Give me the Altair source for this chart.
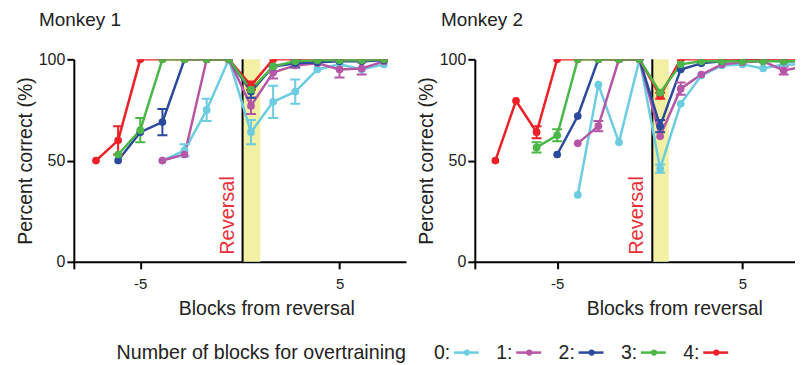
import altair as alt
import pandas as pd

# ---------------- data ----------------
GROUPS = ["0", "1", "2", "3", "4"]
COLORS = ["#6ccde0", "#b656a7", "#2c4a9c", "#4bb748", "#ec2027"]
DRAW_ORDER = ["0", "1", "2", "4", "3"]

# Monkey 1 (blocks from reversal; negative = before, positive = after)
m1_blocks_0 = [-4, -3, -2, -1, 1, 2, 3, 4, 5, 6, 7]
m1_pct_0 = [50, 55, 75, 100, 64, 79, 84, 95, 97.5, 95, 97.5]
m1_err_0 = [0, 3, 5.5, 0, 6, 8, 6, 0, 0, 0, 0]

m1_blocks_1 = [-4, -3, -2, -1, 1, 2, 3, 4, 5, 6, 7]
m1_pct_1 = [50, 53, 100, 100, 77, 93.5, 97, 98, 95, 95.5, 99]
m1_err_1 = [0, 0, 0, 0, 4, 3, 0, 0, 4, 3, 0]

m1_blocks_2 = [-6, -5, -4, -3, -2, -1, 1, 2, 3, 4, 5, 6, 7]
m1_pct_2 = [50, 64, 69, 100, 100, 100, 84, 96.5, 98, 98.5, 99, 99, 99.5]
m1_err_2 = [0, 0, 6.5, 0, 0, 0, 3, 0, 2, 0, 0, 0, 0]

m1_blocks_3 = [-6, -5, -4, -3, -2, -1, 1, 2, 3, 4, 5, 6, 7]
m1_pct_3 = [53, 65, 100, 100, 100, 100, 85, 96.5, 99, 99.5, 99.5, 99.5, 100]
m1_err_3 = [0, 6, 0, 0, 0, 0, 0, 0, 0, 0, 0, 0, 0]

m1_blocks_4 = [-7, -6, -5, -4, -3, -2, -1, 1, 2, 3, 4, 5, 6, 7]
m1_pct_4 = [50, 60, 100, 100, 100, 100, 100, 87, 100, 100, 100, 100, 100, 100]
m1_err_4 = [0, 7, 0, 0, 0, 0, 0, 2, 0, 0, 0, 0, 0, 0]

# Monkey 2
m2_blocks_0 = [-4, -3, -2, -1, 1, 2, 3, 4, 5, 6, 7, 8]
m2_pct_0 = [33, 87.5, 59, 100, 46, 78, 92, 97, 97.5, 95.5, 97.5, 97.5]
m2_err_0 = [0, 0, 0, 0, 2, 0, 0, 0, 0, 0, 0, 0]

m2_blocks_1 = [-4, -3, -2, -1, 1, 2, 3, 4, 5, 6, 7, 8]
m2_pct_1 = [58.5, 67, 100, 100, 62, 85.5, 92.5, 97.5, 98.5, 99, 94.5, 96.5]
m2_err_1 = [0, 2.5, 0, 0, 0, 3, 0, 0, 0, 0, 2, 0]

m2_blocks_2 = [-5, -4, -3, -2, -1, 1, 2, 3, 4, 5, 6, 7, 8]
m2_pct_2 = [53, 72, 100, 100, 100, 67, 95, 98, 99, 99.5, 99.5, 99, 99]
m2_err_2 = [0, 0, 0, 0, 0, 3, 0, 0, 0, 0, 0, 0, 0]

m2_blocks_3 = [-6, -5, -4, -3, -2, -1, 1, 2, 3, 4, 5, 6, 7, 8]
m2_pct_3 = [56.5, 62.5, 100, 100, 100, 100, 83.5, 97.5, 99, 99, 99, 99, 99, 99]
m2_err_3 = [2.5, 3, 0, 0, 0, 0, 0, 0, 0, 0, 0, 0, 0, 0]

m2_blocks_4 = [-8, -7, -6, -5, -4, -3, -2, -1, 1, 2, 3, 4, 5, 6, 7, 8]
m2_pct_4 = [50, 79.5, 64, 100, 100, 100, 100, 100, 82, 100, 100, 100, 100, 100, 100, 100]
m2_err_4 = [0, 0, 3, 0, 0, 0, 0, 0, 1.5, 0, 0, 0, 0, 0, 0, 0]

# reversal marker and the shaded first post-reversal block (in plotted position units)
REVERSAL_AT = [-0.38]
BAND_FROM = [-0.38]
BAND_TO = [0.42]

X_TICKS = [-5, 5]
Y_TICKS = [0, 50, 100]

LEGEND_TITLE = "Number of blocks for overtraining"

RED_TEXT = "#e8303a"
YELLOW = "#f2f0a2"
FONT = "Liberation Sans"


def to_pos(b):
    # blocks are numbered ..., -2, -1, 1, 2, ... (no block 0) and drawn evenly spaced
    return b if b < 0 else b - 1


def build(series):
    rows = []
    for g, (blocks, pct, err) in series.items():
        for b, p, e in zip(blocks, pct, err):
            rows.append(dict(group=g, block=b, pct=p, err=e, pos=to_pos(b),
                             lo=p - e, hi=p + e, k=DRAW_ORDER.index(g)))
    d = pd.DataFrame(rows).sort_values(["k", "pos"]).reset_index(drop=True)
    return d


m1 = build({
    "0": (m1_blocks_0, m1_pct_0, m1_err_0),
    "1": (m1_blocks_1, m1_pct_1, m1_err_1),
    "2": (m1_blocks_2, m1_pct_2, m1_err_2),
    "3": (m1_blocks_3, m1_pct_3, m1_err_3),
    "4": (m1_blocks_4, m1_pct_4, m1_err_4),
})
m2 = build({
    "0": (m2_blocks_0, m2_pct_0, m2_err_0),
    "1": (m2_blocks_1, m2_pct_1, m2_err_1),
    "2": (m2_blocks_2, m2_pct_2, m2_err_2),
    "3": (m2_blocks_3, m2_pct_3, m2_err_3),
    "4": (m2_blocks_4, m2_pct_4, m2_err_4),
})

color = alt.Color("group:N", scale=alt.Scale(domain=GROUPS, range=COLORS), legend=None)


def panel(d, xmin, xmax, width, title, title_dx, xtitle_x):
    tick_pos = [to_pos(t) for t in X_TICKS]
    xs = alt.Scale(domain=[xmin, xmax], nice=False, zero=False)
    ys = alt.Scale(domain=[0, 100], nice=False)
    xaxis = alt.Axis(values=[xmin] + tick_pos,
                     labelExpr="datum.value < %s ? '' : (datum.value < 0 ? datum.value : datum.value + 1)" % (xmin + 0.5),
                     title="Blocks from reversal", labelFontSize=15, labelPadding=8,
                     titlePadding=8, titleX=xtitle_x)
    yaxis = alt.Axis(values=Y_TICKS, title="Percent correct (%)", labelFontSize=16,
                     labelPadding=2, titlePadding=3)

    band = alt.Chart(pd.DataFrame({"a": BAND_FROM, "b": BAND_TO})).mark_rect(
        color=YELLOW).encode(x=alt.X("a:Q", scale=xs, axis=xaxis), x2="b:Q")
    rule = alt.Chart(pd.DataFrame({"a": REVERSAL_AT})).mark_rule(
        color="black", strokeWidth=2).encode(x=alt.X("a:Q", scale=xs, axis=xaxis))
    txt = alt.Chart(pd.DataFrame({"a": REVERSAL_AT, "t": ["Reversal"]})).mark_text(
        angle=270, align="left", baseline="bottom", color=RED_TEXT, fontSize=20,
        font=FONT, dx=7, dy=-5).encode(
        x=alt.X("a:Q", scale=xs, axis=xaxis),
        y=alt.Y(datum=0, scale=ys, axis=yaxis), text="t:N")

    base = alt.Chart(d).encode(
        x=alt.X("pos:Q", scale=xs, axis=xaxis),
        y=alt.Y("pct:Q", scale=ys, axis=yaxis),
        color=color,
    )
    lines = base.mark_line(strokeWidth=2.5, clip=True).encode(
        order=alt.Order("pos:Q"), detail="group:N")
    ebase = alt.Chart(d).transform_filter("datum.err > 0").encode(
        x=alt.X("pos:Q", scale=xs, axis=xaxis), color=color)
    erule = ebase.mark_rule(strokeWidth=2, clip=True).encode(
        y=alt.Y("lo:Q", scale=ys, axis=yaxis), y2="hi:Q")
    etop = ebase.mark_tick(orient="horizontal", size=10, thickness=2, opacity=1,
                           clip=True).encode(y=alt.Y("hi:Q", scale=ys, axis=yaxis))
    ebot = ebase.mark_tick(orient="horizontal", size=10, thickness=2, opacity=1,
                           clip=True).encode(y=alt.Y("lo:Q", scale=ys, axis=yaxis))
    pts = base.mark_circle(size=60, opacity=1, clip=True)

    return alt.layer(band, rule, txt, lines, erule, etop, ebot, pts).properties(
        width=width, height=203,
        title=alt.TitleParams(title, anchor="start", frame="group", dx=title_dx,
                              fontSize=19, fontWeight="normal", font=FONT,
                              baseline="alphabetic", offset=6),
    )


p1 = panel(m1, -8, 7, 333, "Monkey 1", -35, 193)
p2 = panel(m2, -9, 6.55, 321, "Monkey 2", -34, 200)

# legend row (its origin lines up with the left plot's origin)
LEG_STEP = 62.5
LEG_FIRST = 433 - 72
LW = 690
leg = pd.DataFrame({"group": GROUPS, "i": list(range(len(GROUPS)))})
leg["lab"] = leg["group"] + ":"
leg["l0"] = leg["i"] + 0.32
leg["l1"] = leg["i"] + 0.72
leg["pt"] = leg["i"] + 0.53
lx = alt.Scale(domain=[-LEG_FIRST / LEG_STEP, (LW - LEG_FIRST) / LEG_STEP], nice=False, zero=False)
lbase = alt.Chart(leg)
l_text = lbase.mark_text(align="left", baseline="middle", fontSize=19.5, font=FONT,
                         color="#222222").encode(
    x=alt.X("i:Q", scale=lx, axis=None), text="lab:N")
l_line = lbase.mark_rule(strokeWidth=2.5).encode(
    x=alt.X("l0:Q", scale=lx, axis=None), x2="l1:Q", y=alt.value(11), color=color)
l_pt = lbase.mark_circle(size=38, opacity=1).encode(
    x=alt.X("pt:Q", scale=lx, axis=None), color=color)
l_title = alt.Chart(pd.DataFrame({"t": [LEGEND_TITLE], "x": [-0.45]})).mark_text(
    align="right", baseline="middle", fontSize=19.7, font=FONT, color="#222222").encode(
    x=alt.X("x:Q", scale=lx, axis=None), text="t:N")
legend = alt.layer(l_title, l_text, l_line, l_pt).properties(width=LW, height=22)

chart = alt.vconcat(
    alt.hconcat(p1, p2, spacing=10),
    legend,
    spacing=23,
).properties(
    padding={"left": 7, "top": 3, "right": 0, "bottom": 0}
).configure_view(stroke=None).configure_axis(
    domainColor="black", domainWidth=2, tickColor="black", tickWidth=2, tickSize=7,
    labelColor="#222222", titleColor="#222222", labelFont=FONT, titleFont=FONT,
    titleFontWeight="normal", titleFontSize=19.5, grid=False,
).configure_title(font=FONT, color="#222222")

chart.save("out.html", embed_options={"renderer": "svg", "actions": False})
